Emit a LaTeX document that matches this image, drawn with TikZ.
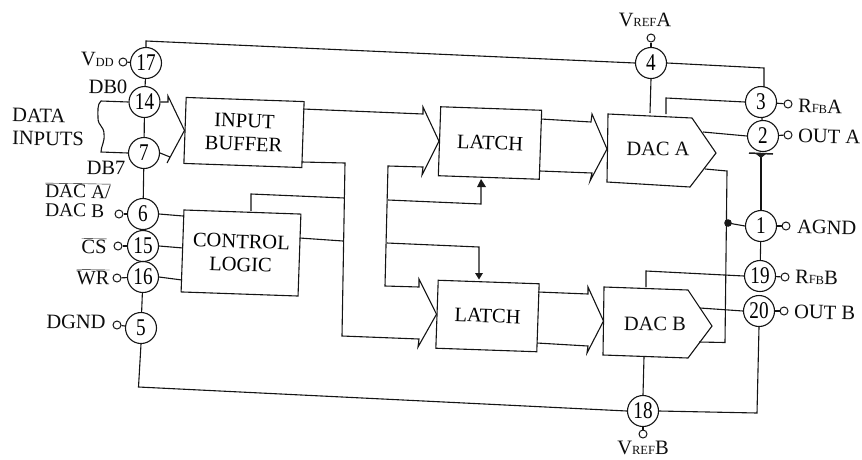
\documentclass[tikz,border=0pt]{standalone}
\usepackage{fontspec}
\usepackage{graphicx}
\setmainfont{Liberation Serif}
\newcommand{\smc}[1]{{\fontsize{12.5}{13}\selectfont #1}}
\newcommand{\pinnum}[1]{\scalebox{.8}[1]{#1}}
\newcommand{\ovl}[1]{$\overline{\hbox{#1}}$}
\tikzset{
  wire/.style={line width=1.1pt,black!92,line join=miter},
  pinc/.style={circle,draw=black!92,line width=1.1pt,minimum size=31pt,inner sep=0pt,font=\fontsize{24}{24}\selectfont},
  opn/.style={circle,draw=black!92,line width=1pt,minimum size=8pt,inner sep=0pt},
  blockbox/.style={draw=black!92,line width=1.1pt,inner sep=0pt,rotate=-2,align=center,font=\fontsize{20.5}{23}\selectfont},
  lbl/.style={inner sep=0pt,rotate=-1,font=\fontsize{20.5}{22}\selectfont,black!95},
  dacshape/.style={draw=black!92,line width=1.1pt,line join=miter},
}
\begin{document}
\begin{tikzpicture}[x=1pt,y=-1pt]
\useasboundingbox (0,0) rectangle (862,459);
% pins
\foreach \n/\x/\y in {17/146/63,14/144.5/102,7/144/153,6/143/214,15/143/246,16/143/277,5/141/328,4/651/63,3/761/102,2/763/136,1/761/226,19/760/276,20/759/311,18/643/411}
  {\node[pinc] (p\n) at (\x,\y) {\pinnum{\n}};}
% open terminals
\foreach \n/\x/\y in {17/123/62,6/119/214,15/118/246,16/117/278,5/117/325,3/788/104,2/788/135,1/786/226,19/785/277,20/784/311,4/651/38,18/643/434}
  {\node[opn] (o\n) at (\x,\y) {};}
% blocks
\node[blockbox,minimum width=118pt,minimum height=66pt] (buf) at (244,132.5) {INPUT\\BUFFER};
\node[blockbox,minimum width=117pt,minimum height=82pt] (ctl) at (241,253) {CONTROL\\LOGIC};
\node[blockbox,minimum width=101pt,minimum height=69pt] (latA) at (490,143) {LATCH};
\node[blockbox,minimum width=101pt,minimum height=68pt] (latB) at (487.5,316) {LATCH};
\coordinate (dacAin) at (607,149);
\coordinate (dacBin) at (603.5,321);
\draw[dacshape] (608,114) -- (692,118) -- (716,153) -- (690,187) -- (607,182) -- cycle;
\draw[dacshape] (604,287) -- (688,290) -- (712,326) -- (688,358) -- (603,355) -- cycle;
\node[lbl] (dacAt) at (658,149) {DAC A};
\node[lbl] (dacBt) at (655,324) {DAC B};
% named ends
\coordinate (dacAtop1) at (650,113);
\coordinate (dacAtop2) at (666,114);
\coordinate (dacAout) at (703,132);
\coordinate (dacAfb) at (705,169);
\coordinate (dacBfb) at (699,342);
\coordinate (dacBtop) at (646,287);
\coordinate (dacBout) at (700,308);
\coordinate (dacBbot) at (644,357);
\coordinate (jn) at (728,223);
\coordinate (diode) at (761,155);
\coordinate (top17) at (146,41);
\coordinate (bufO1) at (303,109);
\coordinate (bufO2) at (302,162);
\coordinate (ctlO1) at (251,211);
\coordinate (ctlO2) at (299.5,238);
\coordinate (vbus1) at (344.5,198);
\coordinate (vbus2) at (343,241);
\coordinate (clk1) at (388,200);
\coordinate (clk2) at (387,243);
\coordinate (ctlA) at (481,181);
\coordinate (ctlB) at (479,275);
% vertical chain
\draw[wire] (p17.north) -- (top17) -- (p4.west);
\draw[wire] (p4.east) -- (764,68) -- (764,87);
\draw[wire] (p17) -- (p14);
\draw[wire] (p14) -- (p7);
\draw[wire] (p7) -- (p6);
\draw[wire] (p16) -- (p5);
\draw[wire] (p5.south) -- (138.5,387) -- (p18.west);
\draw[wire] (p18.east) -- (757,413) -- (p20.south);
\draw[wire] (p3) -- (p2);
\draw[wire] (diode) -- (p1);
\draw[wire] (p1) -- (p19);
% terminals
\foreach \n in {17,6,15,16,5,3,2,1,19,20,4,18} {\draw[wire] (o\n) -- (p\n);}
% data inputs brace
\draw[wire] (p14.west) -- (101,101) .. controls (97,104) and (98,112) .. (98,118) .. controls (98,126) and (104,126) .. (104,134) .. controls (105,142) and (101,146) .. (101,152) -- (p7.west);
% bus into input buffer
\draw[wire] (p14.east) -- (168,102) -- (168,96) -- (buf.west) -- (167,163) -- (170,157) -- (p7.east);
% control inputs
\draw[wire] (p6.east) -- (183,216);
\draw[wire] (p15.east) -- (183,248);
\draw[wire] (p16.east) -- (182,280);
% buffer to latches
\draw[wire] (bufO1) -- (423,114) -- (423,107) -- (latA.west);
\draw[wire] (latA.west) -- (422,175) -- (423,167) -- (388,166) -- (385,286) -- (419,287) -- (419,279) -- (latB.west) -- (418,347) -- (419,339) -- (342,336) -- (345,163) -- (bufO2);
% control lines
\draw[wire] (ctlO1) -- (251,194) -- (vbus1);
\draw[wire] (ctlO2) -- (vbus2);
\draw[wire] (clk1) -- (481,204) -- (ctlA);
\draw[wire] (clk2) -- (479,247) -- (ctlB);
\fill[black!90] (481,179) -- (477,187) -- (486,187) -- cycle;
\fill[black!90] (475,273) -- (483,273) -- (479,279.5) -- cycle;
% latch to DAC buses
\draw[wire] (541,119) -- (591,122) -- (592,114) -- (dacAin) -- (590,181) -- (592,173) -- (540,171);
\draw[wire] (538,292) -- (588,294) -- (588,287) -- (dacBin) -- (587,353) -- (588,346) -- (537,343);
% DAC connections
\draw[wire] (p4.south) -- (dacAtop1);
\draw[wire] (dacAtop2) -- (666,98) -- (p3.west);
\draw[wire] (dacAout) -- (p2.west);
\draw[wire] (dacAfb) -- (727,171) -- (725,342.5) -- (dacBfb);
\draw[wire] (jn) -- (p1.west);
\fill[black!90] (jn) circle (3.8pt);
\draw[wire] (dacBtop) -- (646,271) -- (p19.west);
\draw[wire] (dacBout) -- (p20.west);
\draw[wire] (p18.north) -- (dacBbot);
% diode
\draw[line width=1.5pt,black!88] (749,153) -- (773,154);
\fill[black!88] (756,154) -- (766,154) -- (761,158) -- cycle;
% labels
\node[lbl,anchor=east] (tVdd) at (114,60) {V\smc{DD}};
\node[lbl] (tDB0) at (108,87) {DB0};
\node[lbl,anchor=west] (tData) at (12,115) {DATA};
\node[lbl,anchor=west] (tInp) at (12,138) {INPUTS};
\node[lbl] (tDB7) at (106,168) {DB7};
\node[lbl,anchor=west,font=\fontsize{19.5}{20}\selectfont] (tDacA) at (45,190) {\ovl{DAC A/}};
\node[lbl,anchor=west,font=\fontsize{19.5}{20}\selectfont] (tDacB) at (45,210) {DAC B};
\node[lbl] (tCS) at (94,246) {\ovl{CS}};
\node[lbl] (tWR) at (93,277) {\ovl{WR}};
\node[lbl] (tDG) at (76,322) {DGND};
\node[lbl] (tVA) at (645,20) {V\smc{REF}A};
\node[lbl,anchor=west] (tRA) at (798,106) {R\smc{FB}A};
\node[lbl,anchor=west] (tOA) at (798,136) {OUT A};
\node[lbl,anchor=west] (tAG) at (797,227) {AGND};
\node[lbl,anchor=west] (tRB) at (795,277) {R\smc{FB}B};
\node[lbl,anchor=west] (tOB) at (794,312) {OUT B};
\node[lbl,rotate=1] (tVB) at (643,448) {V\smc{REF}B};
\end{tikzpicture}
\end{document}
